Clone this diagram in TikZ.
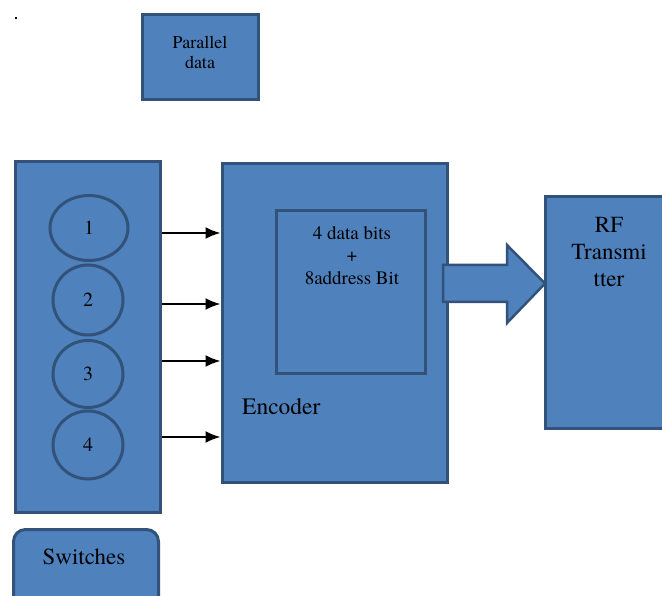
\documentclass[tikz,border=0pt]{standalone}
\usepackage{fontspec}
\setmainfont{texgyretermes}[Extension=.otf,UprightFont=*-regular,BoldFont=*-bold]
\usetikzlibrary{shapes.geometric,arrows.meta}
\definecolor{boxblue}{RGB}{79,129,189}
\definecolor{boxedge}{RGB}{50,82,122}
\tikzset{
	block/.style={draw=boxedge,fill=boxblue,line width=3pt,inner sep=0pt},
	swcircle/.style={ellipse,block,font=\fontsize{20}{20}\selectfont},
	sig/.style={line width=2pt,-{Latex[length=15pt,width=12pt]}}
}
\begin{document}
\begin{tikzpicture}[x=1pt,y=-1pt]
		\useasboundingbox (0,0) rectangle (662,596);
		\fill (14.5,17.5) rectangle (16.5,19.5);
		% parallel data
		\node[block,minimum width=116pt,minimum height=85pt] (par) at (200,57.5) {};
		\node[align=center,font=\fontsize{18}{20}\selectfont] (partext) at (200,52) {Parallel\\data};
		% switches
		\node[block,minimum width=145pt,minimum height=350pt] (sw) at (87.5,337) {};
		\node[swcircle,minimum width=78pt,minimum height=65pt] (c1) at (89,228) {1};
		\node[swcircle,minimum width=70pt,minimum height=70pt] (c2) at (88,300) {2};
		\node[swcircle,minimum width=70pt,minimum height=67pt] (c3) at (88,374) {3};
		\node[swcircle,minimum width=70pt,minimum height=68pt] (c4) at (88,445) {4};
		\node[block,rounded corners=12pt,minimum width=145pt,minimum height=82pt,anchor=north west] (swbox) at (12,528) {};
		\node[font=\fontsize{23}{26}\selectfont] (swtext) at (84,557) {Switches};
		% encoder
		\node[block,minimum width=225pt,minimum height=318pt] (enc) at (334.5,323) {};
		\node[block,minimum width=149pt,minimum height=163pt] (inner) at (350.5,292.5) {};
		\node[align=center,font=\fontsize{19}{22.5}\selectfont] (innertext) at (352,255.5) {4 data bits\\+\\8address Bit};
		\node[anchor=west,inner sep=0pt,font=\fontsize{23.5}{26}\selectfont] (enctext) at (242,407) {Encoder};
		% switch lines
		\coordinate (a1) at (sw.east |- 0,233);
		\coordinate (a2) at (sw.east |- 0,304);
		\coordinate (a3) at (sw.east |- 0,361);
		\coordinate (a4) at (sw.east |- 0,437);
		\foreach \i in {1,...,4}
			\draw[sig] (a\i) -- (a\i -| enc.west);
		% to transmitter
		\draw[block,line width=2.5pt,line join=miter] (443,265) -- (507,265) -- (507,245) -- (545,283.5) -- (507,323) -- (507,302) -- (443,302) -- cycle;
		\node[block,minimum width=135pt,minimum height=231pt] (rf) at (612.5,312.5) {};
		\node[align=center,font=\fontsize{23}{27}\selectfont] (rftext) at (609,252.5) {RF\\Transmi\\tter};
	\end{tikzpicture}
\end{document}
